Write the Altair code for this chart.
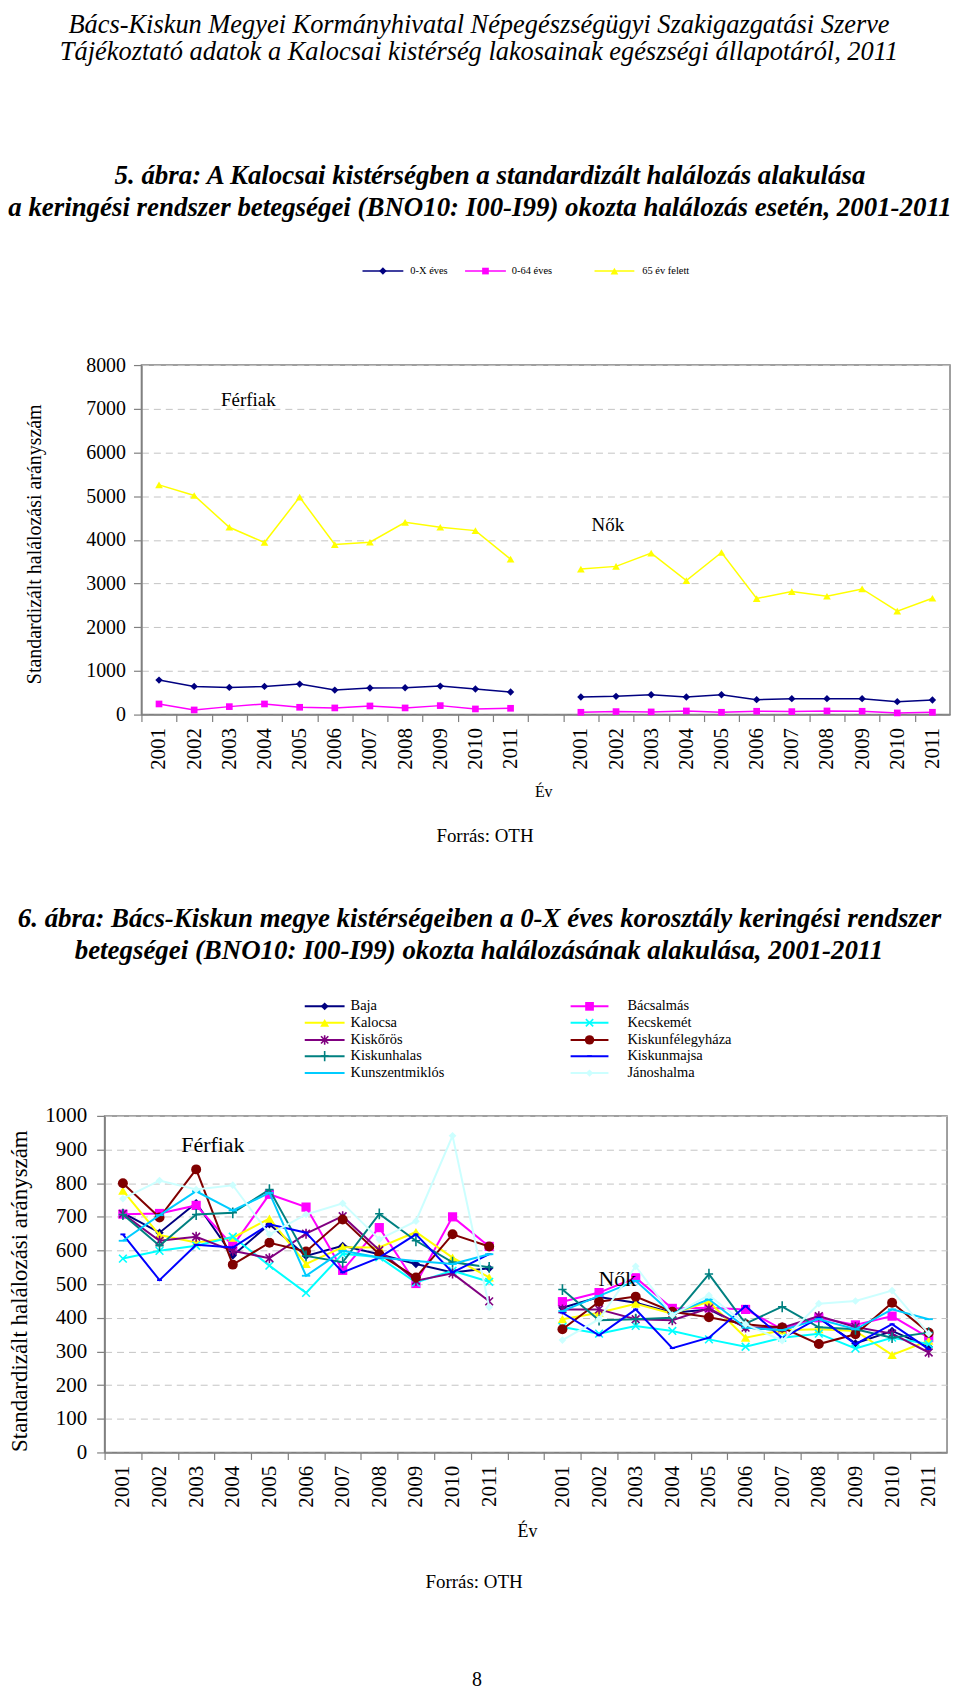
import altair as alt
import pandas as pd

YEARS = list(range(2001, 2012))

# ---------------- Figure 5 data (Kalocsai kistérség) ----------------
SERIES5 = ["0-X éves", "0-64 éves", "65 év felett"]
FERFI_0X = [789, 645, 622, 645, 698, 561, 607, 615, 652, 584, 516]
FERFI_064 = [243, 106, 182, 243, 167, 152, 197, 152, 205, 129, 144]
FERFI_65 = [5258, 5015, 4287, 3938, 4977, 3892, 3945, 4400, 4287, 4211, 3558]
NO_0X = [402, 417, 455, 402, 455, 341, 364, 364, 364, 296, 334]
NO_064 = [53, 68, 61, 83, 53, 76, 68, 83, 76, 38, 53]
NO_65 = [3331, 3392, 3695, 3065, 3710, 2656, 2815, 2709, 2876, 2367, 2663]

# ---------------- Figure 6 data (0-X éves, kistérségek) ----------------
DISTRICTS = ["Baja", "Bácsalmás", "Kalocsa", "Kecskemét", "Kiskőrös",
             "Kiskunfélegyháza", "Kiskunhalas", "Kiskunmajsa",
             "Kunszentmiklós", "Jánoshalma"]
F_BAJA = [712, 653, 741, 585, 678, 584, 614, 589, 560, 535, 547]
F_BACSALMAS = [708, 710, 734, 614, 767, 729, 541, 668, 502, 700, 612]
F_KALOCSA = [778, 646, 624, 638, 695, 560, 610, 609, 655, 579, 520]
F_KECSKEMET = [576, 599, 614, 641, 555, 474, 590, 580, 505, 540, 507]
F_KISKOROS = [709, 629, 641, 599, 577, 650, 702, 601, 510, 532, 449]
F_KISKUNFELEGYHAZA = [800, 698, 841, 558, 623, 597, 692, 589, 520, 648, 612]
F_KISKUNHALAS = [707, 614, 707, 712, 781, 584, 565, 709, 629, 565, 550]
F_KISKUNMAJSA = [648, 512, 617, 609, 678, 653, 535, 579, 648, 535, 589]
F_KUNSZENTMIKLOS = [629, 705, 776, 719, 771, 525, 599, 579, 569, 560, 589]
F_JANOSHALMA = [754, 808, 781, 794, 648, 707, 740, 633, 687, 941, 432]

N_BAJA = [430, 462, 445, 415, 425, 371, 363, 400, 324, 361, 314]
N_BACSALMAS = [448, 475, 519, 428, 430, 425, 366, 400, 379, 405, 341]
N_KALOCSA = [396, 415, 442, 412, 448, 341, 363, 366, 361, 290, 332]
N_KECSKEMET = [373, 353, 376, 361, 336, 314, 341, 353, 309, 341, 322]
N_KISKOROS = [425, 425, 396, 393, 428, 371, 371, 405, 373, 353, 297]
N_KISKUNFELEGYHAZA = [366, 448, 463, 418, 402, 381, 371, 322, 351, 445, 356]
N_KISKUNHALAS = [484, 393, 396, 400, 530, 383, 433, 372, 366, 341, 356]
N_KISKUNMAJSA = [415, 348, 425, 310, 341, 435, 339, 400, 322, 381, 307]
N_KUNSZENTMIKLOS = [420, 465, 510, 412, 455, 371, 363, 396, 366, 425, 396]
N_JANOSHALMA = [334, 396, 553, 408, 467, 381, 332, 442, 450, 481, 353]

F6 = [F_BAJA, F_BACSALMAS, F_KALOCSA, F_KECSKEMET, F_KISKOROS,
      F_KISKUNFELEGYHAZA, F_KISKUNHALAS, F_KISKUNMAJSA, F_KUNSZENTMIKLOS, F_JANOSHALMA]
N6 = [N_BAJA, N_BACSALMAS, N_KALOCSA, N_KECSKEMET, N_KISKOROS,
      N_KISKUNFELEGYHAZA, N_KISKUNHALAS, N_KISKUNMAJSA, N_KUNSZENTMIKLOS, N_JANOSHALMA]

# category slots: men's years, an empty gap, women's years (zero-width mark keeps them distinct)
ZW = "\u200b"
F_SLOTS = [str(y) for y in YEARS]
N_SLOTS = [str(y) + ZW for y in YEARS]
SLOTS = F_SLOTS + [" "] + N_SLOTS


def long_table(names, ferfi, no):
    rows = []
    for name, f, n in zip(names, ferfi, no):
        for s, v in zip(F_SLOTS, f):
            rows.append({"series": name, "grp": "F", "slot": s, "value": v})
        for s, v in zip(N_SLOTS, n):
            rows.append({"series": name, "grp": "N", "slot": s, "value": v})
    return pd.DataFrame(rows)


DF5 = long_table(SERIES5, [FERFI_0X, FERFI_064, FERFI_65], [NO_0X, NO_064, NO_65])
DF6 = long_table(DISTRICTS, F6, N6)

# ---------------- styles ----------------
SERIF = "Liberation Serif"
GRID = "#C4C4C4"
AXC = "#808080"
ONE = pd.DataFrame({"k": [0]})

STYLE5 = {
    "0-X éves": ("#000080", "diamond", True, 55),
    "0-64 éves": ("#FF00FF", "square", True, 45),
    "65 év felett": ("#FFFF00", "triangle-up", True, 60),
}
XMARK = "M-1,-1L1,1M-1,1L1,-1"
STYLE6 = {
    "Baja": ("#000080", "diamond", True, 70),
    "Bácsalmás": ("#FF00FF", "square", True, 85),
    "Kalocsa": ("#FFFF00", "triangle-up", True, 90),
    "Kecskemét": ("#00FFFF", XMARK, False, 60),
    "Kiskőrös": ("#800080", XMARK + "M0,-1.3L0,1.3", False, 60),
    "Kiskunfélegyháza": ("#800000", "circle", True, 100),
    "Kiskunhalas": ("#008080", "M-1,0L1,0M0,-1.3L0,1.3", False, 70),
    "Kiskunmajsa": ("#0000FF", "M-0.6,-0.22H0.6V0.22H-0.6Z", True, 70),
    "Kunszentmiklós": ("#00CCFF", "M-1,-0.22H1V0.22H-1Z", True, 70),
    "Jánoshalma": ("#CCFFFF", "diamond", True, 60),
}


def txt(t, x, y, size, align="center", angle=None, italic=False, bold=False):
    props = dict(text=t, font=SERIF, fontSize=size, align=align, baseline="middle", color="black")
    if angle is not None:
        props["angle"] = angle
    if italic:
        props["fontStyle"] = "italic"
    if bold:
        props["fontWeight"] = "bold"
    return alt.Chart(ONE).mark_text(**props).encode(x=alt.value(x), y=alt.value(y))


def hrule(x1, x2, y, color, w):
    return alt.Chart(ONE).mark_rule(color=color, strokeWidth=w).encode(
        x=alt.value(x1), x2=alt.value(x2), y=alt.value(y))


def marker(x, y, style, scale=1.0):
    color, shape, filled, size = style
    return alt.Chart(ONE).mark_point(shape=shape, filled=filled, size=size * scale, color=color,
                                     opacity=1, strokeWidth=1.6).encode(
        x=alt.value(x), y=alt.value(y))


def panel(df, names, styles, w, h, ydom, yvals, ylab, ypad, xlab, lw, notes):
    step = w / len(SLOTS)
    xs = alt.X("slot:N",
               scale=alt.Scale(type="band", domain=SLOTS, paddingInner=0, paddingOuter=0),
               axis=alt.Axis(orient="bottom", title=None,
                             labelAngle=270, labelAlign="right", labelBaseline="middle",
                             labelFont=SERIF, labelFontSize=xlab, labelColor="black",
                             labelPadding=6, tickOffset=-step / 2, labelOffset=step / 2,
                             tickSize=7, tickColor=AXC, tickWidth=1.2,
                             domainColor=AXC, domainWidth=1.5, grid=False))
    ys = alt.Y("value:Q",
               scale=alt.Scale(domain=ydom, nice=False, zero=True),
               axis=alt.Axis(orient="left", title=None, values=yvals,
                             format=".0f", grid=True, gridColor=GRID, gridDash=[7, 5],
                             gridWidth=1, labelFont=SERIF, labelFontSize=ylab,
                             labelColor="black", labelPadding=ypad, tickSize=8,
                             tickColor=AXC, tickWidth=1.2, domainColor=AXC,
                             domainWidth=1.5))
    layers = []
    for name in names:
        color, shape, filled, size = styles[name]
        base = alt.Chart(df).transform_filter(alt.datum.series == name)
        layers.append(base.mark_line(color=color, strokeWidth=lw).encode(
            x=xs, y=ys, detail="grp:N"))
        layers.append(base.mark_point(shape=shape, filled=filled, size=size, color=color,
                                      opacity=1, strokeWidth=1.6).encode(x=xs, y=ys))
    return alt.layer(*layers, *notes).properties(
        width=w, height=h, view=alt.ViewBackground(stroke=AXC, strokeWidth=1.5))


# ---------------- band A: header, figure 5 title and legend ----------------
bandA = [
    txt("Bács-Kiskun Megyei Kormányhivatal Népegészségügyi Szakigazgatási Szerve",
        472, 13.5, 26.5, italic=True),
    txt("Tájékoztató adatok a Kalocsai kistérség lakosainak egészségi állapotáról, 2011",
        472, 41, 26.5, italic=True),
    txt("5. ábra: A Kalocsai kistérségben a standardizált halálozás alakulása",
        483, 165, 27, italic=True, bold=True),
    txt("a keringési rendszer betegségei (BNO10: I00-I99) okozta halálozás esetén, 2001-2011",
        473, 197, 27, italic=True, bold=True),
]
LEG5 = [(355, 396, 403), (458, 499, 505), (588, 628, 636)]
for name, (lx1, lx2, tx) in zip(SERIES5, LEG5):
    ly = 260.6
    bandA.append(hrule(lx1, lx2, ly, STYLE5[name][0], 1.5))
    bandA.append(marker((lx1 + lx2) / 2, ly, STYLE5[name]))
    bandA.append(txt(name, tx, ly, 10.5, align="left"))
viewA = alt.layer(*bandA).properties(width=944, height=344)

# ---------------- row 5: figure 5 plot ----------------
spacer5 = alt.layer(
    txt("Standardizált halálozási arányszám", 26.5, 180, 20, angle=270)
).properties(width=133, height=351)
plot5 = panel(DF5, SERIES5, STYLE5, 812, 351, [0, 8000], list(range(0, 8001, 1000)), 20, 8, 21, 1.5,
              [txt("Férfiak", 80, 35, 19, align="left"),
               txt("Nők", 452, 161, 19, align="left")])
row5 = alt.hconcat(spacer5, plot5, spacing=0, bounds="flush")

# ---------------- band C: figure 5 footer, figure 6 title and legend ----------------
bandC = [
    txt("Év", 537, 22, 16),
    txt("Forrás: OTH", 478, 66, 19),
    txt("6. ábra: Bács-Kiskun megye kistérségeiben a 0-X éves korosztály keringési rendszer",
        472.5, 149, 27, italic=True, bold=True),
    txt("betegségei (BNO10: I00-I99) okozta halálozásának alakulása, 2001-2011",
        472, 181, 27, italic=True, bold=True),
]
COLS6 = [(297, 337, 343), (564, 602, 621)]
ROWS6 = [237, 253.5, 270.7, 287, 304]
for i, name in enumerate(DISTRICTS):
    lx1, lx2, tx = COLS6[i % 2]
    ly = ROWS6[i // 2]
    bandC.append(hrule(lx1, lx2, ly, STYLE6[name][0], 2))
    bandC.append(marker((lx1 + lx2) / 2, ly, STYLE6[name], 0.9))
    bandC.append(txt(name, tx, ly, 14.5, align="left"))
viewC = alt.layer(*bandC).properties(width=944, height=335)

# ---------------- row 6: figure 6 plot ----------------
spacer6 = alt.layer(
    txt("Standardizált halálozási arányszám", 11.5, 176, 23, angle=270)
).properties(width=96, height=338)
plot6 = panel(DF6, DISTRICTS, STYLE6, 846, 338, [0, 1000], list(range(0, 1001, 100)), 21, 10, 21, 2,
              [txt("Férfiak", 77, 29, 22, align="left"),
               txt("Nők", 496, 164, 22, align="left")])
row6 = alt.hconcat(spacer6, plot6, spacing=0, bounds="flush")

# ---------------- band E: figure 6 footer, page number ----------------
viewE = alt.layer(
    txt("Év", 520.6, 24.4, 18),
    txt("Forrás: OTH", 467, 74.4, 19),
    txt("8", 470, 172.4, 20),
).properties(width=944, height=184)

chart = alt.vconcat(viewA, row5, viewC, row6, viewE, spacing=0).properties(
    padding=0
).configure_view(stroke=None)

chart.save("out.html", embed_options={"renderer": "svg", "actions": False})
